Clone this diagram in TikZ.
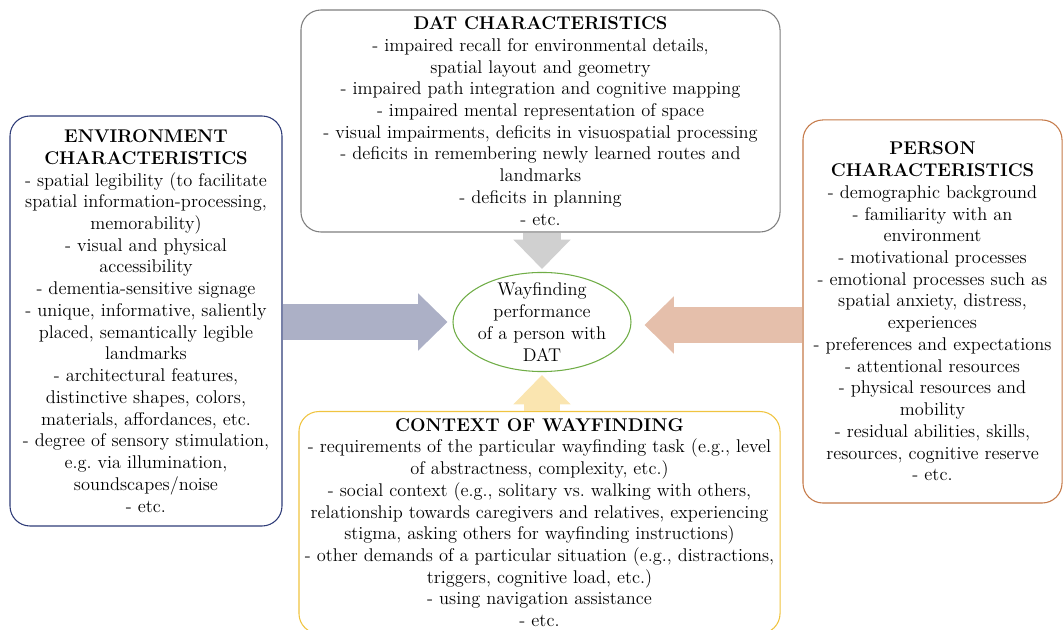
\documentclass[tikz,border=0pt]{standalone}
\usetikzlibrary{arrows.meta,calc,shapes.geometric}

\definecolor{datgray}{RGB}{127,127,127}
\definecolor{envblue}{RGB}{47,60,120}
\definecolor{personorange}{RGB}{197,122,73}
\definecolor{contextyellow}{RGB}{240,196,64}
\definecolor{perfgreen}{RGB}{112,173,71}
\definecolor{datarrow}{RGB}{208,208,208}
\definecolor{envarrow}{RGB}{172,176,198}
\definecolor{personarrow}{RGB}{229,191,171}
\definecolor{contextarrow}{RGB}{250,229,176}

\tikzset{
  charbox/.style={draw=#1, line width=0.8pt, rounded corners=15pt, fill=white, align=center, inner sep=0pt, font=\fontsize{13.8}{16.3}\selectfont},
  bigarrow/.style={draw=#1, line width=27pt, -{Triangle[width=43pt,length=22pt,line width=0pt]}}
}

\begin{document}
\begin{tikzpicture}[x=0.75pt,y=-0.75pt]
\useasboundingbox (0,0) rectangle (1064,630);

\node[charbox=datgray, minimum width=359.3pt, minimum height=166.5pt] (dat) at (540.5,121) {\textbf{DAT CHARACTERISTICS}\\ - impaired recall for environmental details,\\ spatial layout and geometry\\ - impaired path integration and cognitive mapping\\ - impaired mental representation of space\\ - visual impairments, deficits in visuospatial processing\\ - deficits in remembering newly learned routes and\\ landmarks\\ - deficits in planning\\ - etc.};

\node[charbox=envblue, minimum width=204pt, minimum height=307.5pt] (env) at (146,321) {\textbf{ENVIRONMENT}\\ \textbf{CHARACTERISTICS}\\ - spatial legibility (to facilitate\\ spatial information-processing,\\ memorability)\\ - visual and physical\\ accessibility\\ - dementia-sensitive signage\\ - unique, informative, saliently\\ placed, semantically legible\\ landmarks\\ - architectural features,\\ distinctive shapes, colors,\\ materials, affordances, etc.\\ - degree of sensory stimulation,\\ e.g.\ via illumination,\\ soundscapes/noise\\ - etc.};

\node[charbox=personorange, minimum width=194.3pt, minimum height=287.3pt] (person) at (932.5,311.5) {\textbf{PERSON}\\ \textbf{CHARACTERISTICS}\\ - demographic background\\ - familiarity with an\\ environment\\ - motivational processes\\ - emotional processes such as\\ spatial anxiety, distress,\\ experiences\\ - preferences and expectations\\ - attentional resources\\ - physical resources and\\ mobility\\ - residual abilities, skills,\\ resources, cognitive reserve\\ - etc.};

\node[charbox=contextyellow, minimum width=360.8pt, minimum height=166.5pt, anchor=north] (context) at (539.5,411) {\textbf{CONTEXT OF WAYFINDING}\\ - requirements of the particular wayfinding task (e.g., level\\ of abstractness, complexity, etc.)\\ - social context (e.g., solitary vs.\ walking with others,\\ relationship towards caregivers and relatives, experiencing\\ stigma, asking others for wayfinding instructions)\\ - other demands of a particular situation (e.g., distractions,\\ triggers, cognitive load, etc.)\\ - using navigation assistance\\ - etc.};

\node[ellipse, draw=perfgreen, line width=0.8pt, minimum width=133.5pt, minimum height=74.3pt] (perf) at (542,322) {};
\node[align=center, inner sep=0pt, font=\fontsize{13.8}{16.3}\selectfont] (perftext) at (perf.center) {Wayfinding\\ performance\\ of a person with\\ DAT};

\draw[bigarrow=datarrow, line width=29pt] (perf.north |- dat.south) -- ($(perf.north)+(0,-3)$);
\draw[bigarrow=contextarrow] (perf.south |- context.north) -- ($(perf.south)+(0,3)$);
\draw[bigarrow=envarrow] (env.east |- perf.west) -- ($(perf.west)+(-5,0)$);
\draw[bigarrow=personarrow] ($(person.west |- perf.east)+(0,3)$) -- ($(perf.east)+(13,3)$);
\end{tikzpicture}
\end{document}
